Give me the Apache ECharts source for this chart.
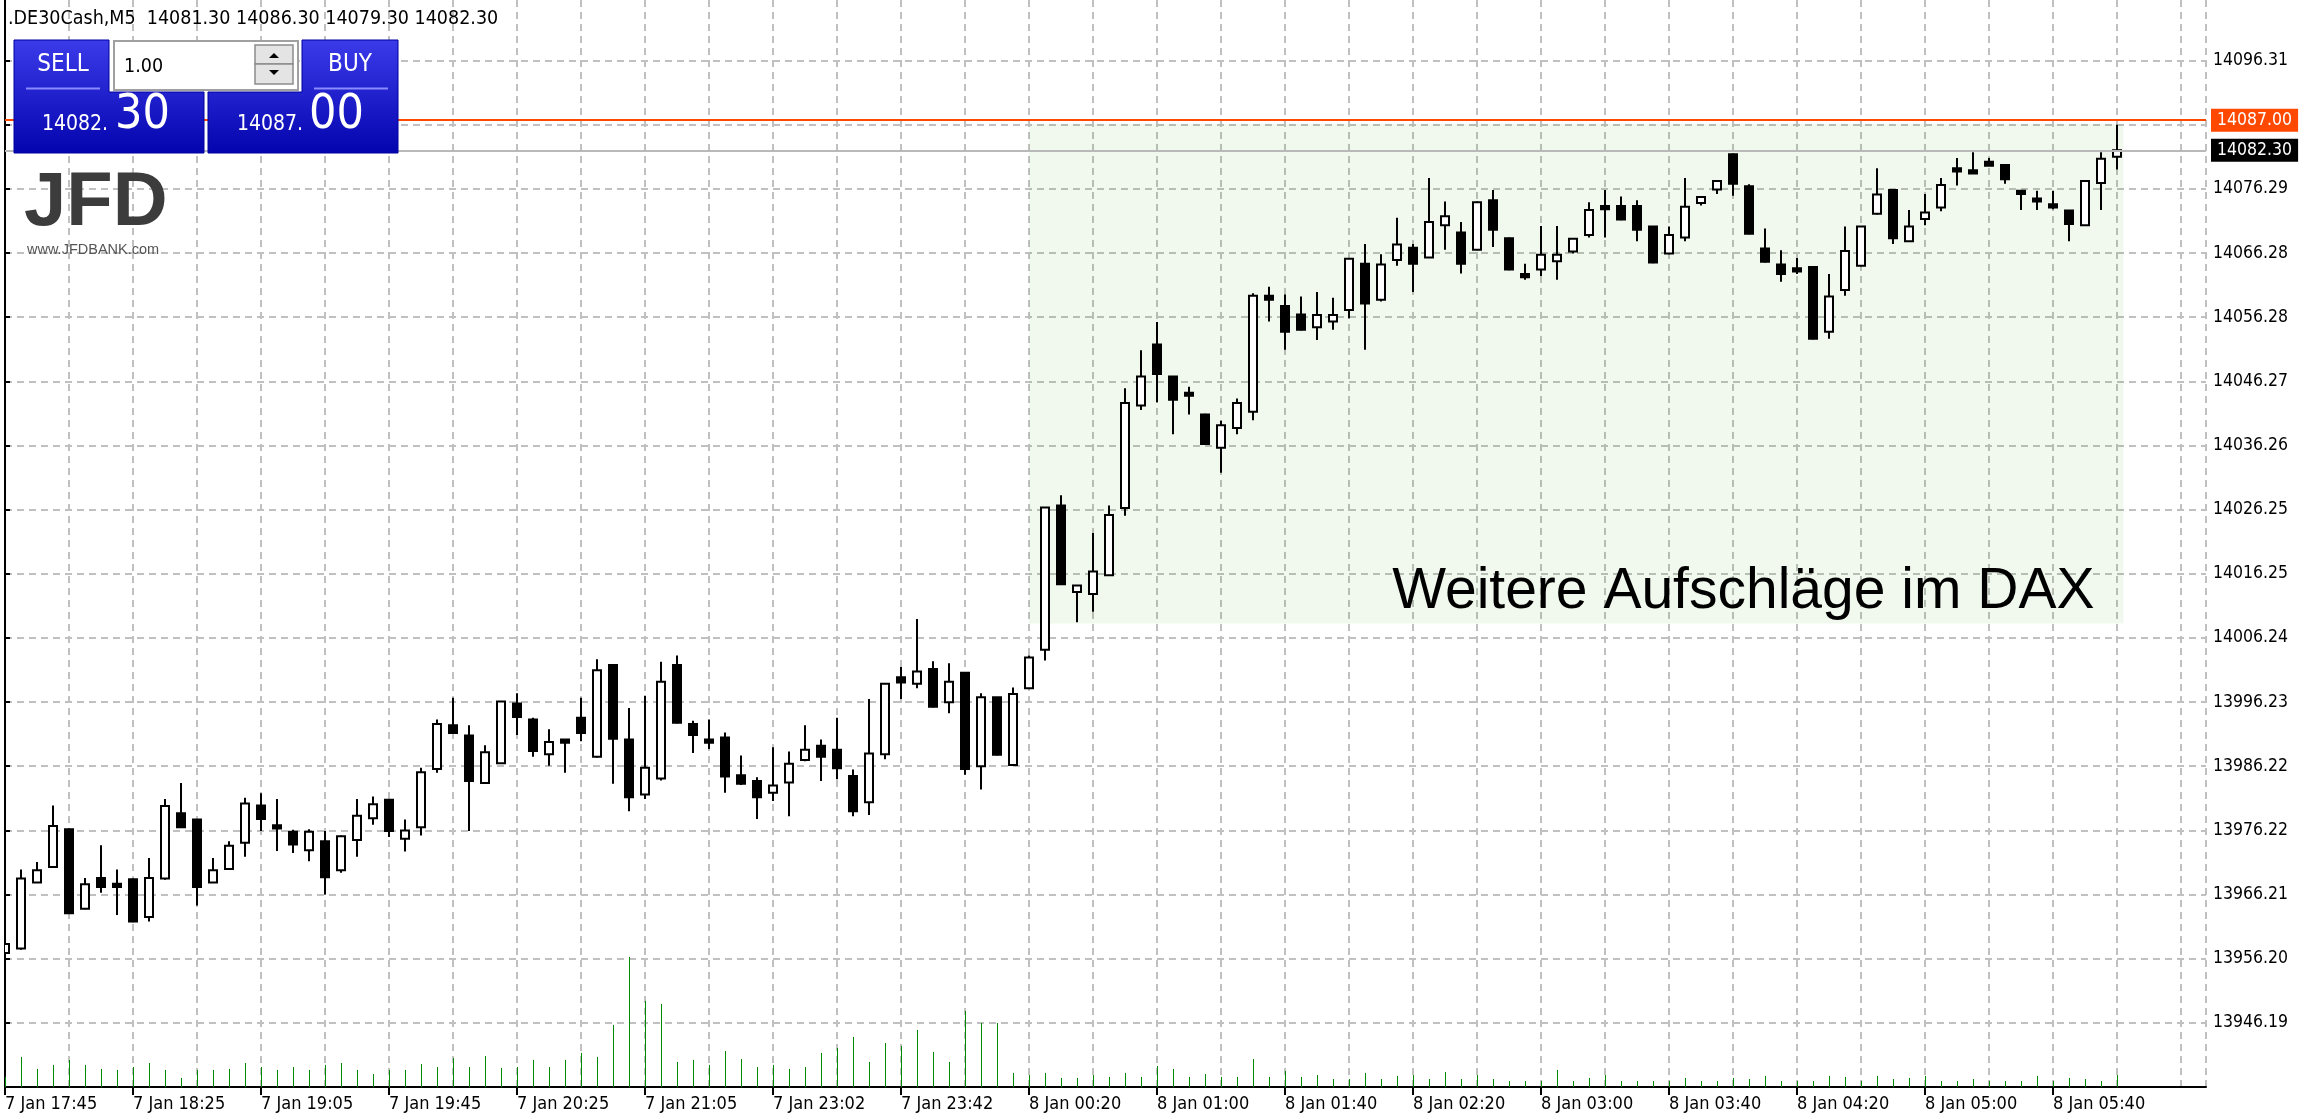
<!DOCTYPE html>
<html>
<head>
<meta charset="utf-8">
<script src="https://cdn.jsdelivr.net/npm/echarts@6/dist/echarts.min.js"></script>
<style>html,body{margin:0;padding:0;background:#fff;overflow:hidden}#c{width:2302px;height:1120px}</style>
</head>
<body>
<div id="c"></div>
<script>
// ---------- DATA ----------
const timeLabels = ['7 Jan 17:45','7 Jan 18:25','7 Jan 19:05','7 Jan 19:45','7 Jan 20:25','7 Jan 21:05','7 Jan 23:02','7 Jan 23:42','8 Jan 00:20','8 Jan 01:00','8 Jan 01:40','8 Jan 02:20','8 Jan 03:00','8 Jan 03:40','8 Jan 04:20','8 Jan 05:00','8 Jan 05:40'];

const opens = [13957.1,13957.8,13968.1,13970.5,13976.4,13964.0,13968.8,13967.9,13968.6,13962.7,
13968.7,13978.9,13977.9,13968.1,13970.2,13974.3,13980.1,13977.0,13976.0,13973.1,
13974.5,13970.0,13974.7,13978.1,13981.0,13974.9,13976.7,13985.8,13992.6,13991.0,
13983.6,13986.7,13996.0,13993.5,13988.1,13990.4,13993.8,13987.7,14002.0,13990.4,
13981.8,13984.3,14002.0,13992.8,13990.4,13990.7,13984.8,13983.9,13982.1,13983.7,
13987.2,13989.4,13988.8,13984.7,13980.6,13988.1,14000.1,13999.1,14001.4,13996.2,
14000.8,13986.2,13997.0,13986.4,13998.4,14004.4,14026.9,14013.4,14013.1,14016.0,
14026.5,14042.5,14052.0,14047.0,14044.5,14041.1,14035.9,14039.0,14041.5,14059.6,
14058.0,14056.7,14054.7,14055.6,14057.4,14064.6,14059.0,14065.2,14067.1,14065.6,
14070.6,14069.5,14066.8,14074.5,14068.6,14063.0,14063.7,14065.0,14066.5,14069.1,
14073.6,14073.6,14073.6,14070.4,14066.2,14068.7,14074.1,14076.2,14081.7,14076.7,
14067.0,14064.5,14063.9,14064.1,14054.0,14060.5,14064.3,14072.4,14076.1,14068.1,
14071.6,14073.4,14079.5,14079.2,14080.5,14080.0,14076.0,14074.8,14073.9,14072.9,
14070.6,14077.2,14081.3];

const highs = [13958.6,13970.1,13971.3,13980.1,13976.5,13968.8,13973.9,13970.1,13968.7,13971.9,
13981.1,13983.6,13978.0,13971.9,13974.5,13981.3,13982.0,13981.1,13976.3,13976.4,
13976.1,13975.4,13981.1,13981.5,13981.1,13977.9,13986.0,13993.5,13996.9,13992.6,
13989.5,13996.4,13997.6,13993.8,13992.0,13990.4,13996.9,14002.9,14002.0,13995.3,
13997.2,14002.5,14003.5,13993.3,13993.5,13991.5,13987.9,13984.5,13989.2,13988.5,
13992.6,13990.4,13993.8,13985.7,13996.7,13999.1,14001.7,14009.2,14002.6,14002.3,
14000.8,13997.6,13997.0,13998.5,14003.5,14026.6,14028.5,14014.5,14022.6,14026.9,
14045.2,14051.1,14055.5,14047.1,14045.4,14041.2,14040.1,14043.6,14060.0,14061.0,
14059.8,14059.5,14060.2,14059.3,14065.5,14067.7,14066.1,14071.8,14067.7,14078.0,
14074.3,14071.1,14074.3,14076.1,14068.7,14064.6,14070.5,14070.5,14068.6,14074.2,
14076.1,14075.1,14074.5,14070.5,14070.4,14078.0,14075.1,14077.6,14081.8,14077.0,
14070.1,14066.7,14065.5,14064.2,14063.0,14070.4,14070.5,14079.5,14076.2,14073.0,
14075.5,14078.0,14081.1,14082.0,14081.1,14080.1,14076.1,14076.0,14076.0,14073.0,
14077.6,14082.0,14086.3];

const lows = [13957.0,13957.6,13968.0,13970.4,13963.2,13963.9,13966.5,13963.0,13961.9,13962.0,
13968.5,13976.6,13964.5,13968.0,13970.1,13972.1,13976.1,13973.0,13972.7,13971.4,
13966.2,13969.6,13972.1,13977.1,13975.2,13972.9,13975.4,13985.2,13991.3,13976.1,
13983.5,13986.6,13991.1,13987.7,13986.3,13985.2,13990.1,13987.6,13983.5,13979.2,
13981.1,13984.0,13992.9,13988.3,13988.9,13982.1,13983.3,13978.0,13980.8,13978.4,
13987.0,13983.9,13984.2,13978.4,13978.6,13987.3,13996.7,13998.4,13995.4,13994.5,
13984.9,13982.6,13987.9,13986.3,13998.3,14002.7,14014.5,14008.7,14010.3,14015.9,
14025.3,14041.8,14043.0,14038.0,14041.1,14036.4,14032.0,14038.0,14040.2,14055.6,
14051.2,14054.2,14052.7,14054.3,14056.1,14051.2,14058.7,14064.3,14060.2,14065.5,
14066.8,14063.1,14066.7,14067.2,14063.6,14062.1,14062.7,14062.1,14066.2,14068.7,
14068.7,14071.4,14068.1,14064.7,14066.1,14068.1,14073.7,14075.5,14075.2,14069.2,
14064.8,14061.8,14063.0,14052.8,14052.9,14059.6,14064.2,14072.3,14067.7,14068.0,
14070.6,14072.8,14076.8,14078.6,14079.9,14077.1,14073.0,14073.0,14073.1,14068.1,
14070.5,14073.0,14079.3];

const closes = [13958.5,13968.7,13970.0,13976.9,13963.3,13967.8,13967.4,13967.4,13962.0,13968.8,
13980.0,13976.7,13967.4,13970.0,13973.8,13980.4,13978.0,13976.5,13974.0,13976.0,
13968.9,13975.3,13978.5,13980.3,13976.1,13976.2,13985.3,13992.8,13991.4,13983.9,
13988.4,13996.3,13993.9,13988.6,13990.0,13989.9,13991.4,14001.2,13990.5,13981.4,
13986.0,13999.4,13993.0,13991.1,13989.9,13984.6,13983.5,13981.4,13983.2,13986.6,
13988.8,13987.7,13985.9,13979.2,13988.2,13999.1,13999.3,14001.0,13995.5,13999.4,
13985.8,13997.0,13988.0,13997.5,14003.2,14026.6,14014.6,14014.4,14016.6,14025.4,
14042.9,14047.0,14047.4,14043.4,14044.0,14036.5,14039.4,14042.9,14059.6,14059.0,
14054.0,14054.3,14056.6,14056.6,14065.4,14058.4,14064.5,14067.6,14064.6,14071.1,
14072.0,14064.6,14074.2,14069.9,14063.7,14062.5,14066.0,14066.0,14068.5,14073.0,
14073.1,14071.5,14069.9,14064.8,14069.1,14073.5,14075.0,14077.5,14077.1,14069.3,
14064.9,14063.0,14063.4,14052.9,14059.5,14066.6,14070.4,14075.4,14068.6,14070.4,
14072.6,14076.9,14079.0,14078.7,14079.9,14077.8,14075.5,14074.3,14073.4,14070.8,
14077.5,14081.0,14082.3];

const volumes = [100,300,180,220,270,220,180,170,200,240,
170,90,170,170,180,240,200,170,200,170,
220,240,170,130,170,170,230,200,290,200,
310,190,200,270,200,270,340,300,620,1300,
860,830,250,270,220,360,280,200,220,180,
200,340,390,500,250,440,410,570,350,250,
760,640,640,140,120,140,90,90,120,100,
140,100,210,180,100,130,100,100,280,100,
160,100,120,80,80,140,80,110,120,80,
150,80,120,80,60,60,60,170,60,90,
120,60,60,60,60,90,60,60,90,80,
110,60,60,60,110,100,60,110,80,90,
110,60,60,80,60,60,60,110,60,90,
80,60,120];

const yTickLabels = ['13946.19','13956.20','13966.21','13976.22','13986.22','13996.23','14006.24','14016.25','14026.25','14036.26','14046.27','14056.28','14066.28','14076.29','14096.31'];

const bidPrice = 14082.30;
const askPrice = 14087.00;
const headerText = '.DE30Cash,M5  14081.30 14086.30 14079.30 14082.30';
const boxFromIndex = 64, boxToIndex = 132.4, boxLow = 14008.5, boxHigh = 14086.4;
const noteText = 'Weitere Aufschläge im DAX';
const noteIndex = 86.7, notePrice = 14013.4;

// ---------- derived ----------
function shiftTime(label, minutes) {
  const m = label.match(/^(\d+) (\w+) (\d+):(\d+)$/);
  let d = +m[1], t = (+m[3]) * 60 + (+m[4]) + minutes;
  if (t >= 1440) { t -= 1440; d += 1; }
  return d + ' ' + m[2] + ' ' + String(Math.floor(t / 60)).padStart(2, '0') + ':' + String(t % 60).padStart(2, '0');
}
const candleTimes = opens.map((_, i) => shiftTime(timeLabels[Math.floor(i / 8)], (i % 8) * 5));
const labelIndexes = timeLabels.map((_, k) => k * 8);

const Y_STEP = 10.008;
const Y_MIN = 13946.19 - Y_STEP;
const Y_MAX = 14105.75;
const X_MAX = 137.5625;
const VOL_MAX = 10870;
const FONT = "'DejaVu Sans Condensed','DejaVu Sans',sans-serif";

const candleData = opens.map((o, i) => [i, o, closes[i], lows[i], highs[i]]);
const volData = volumes.map((v, i) => [i, v]);

const chart = echarts.init(document.getElementById('c'), null, { renderer: 'canvas' });

const blueGrad = () => new echarts.graphic.LinearGradient(0, 0, 0, 1, [
  { offset: 0, color: '#3b3bea' }, { offset: 1, color: '#0404ae' }]);

const option = {
  animation: false,
  backgroundColor: '#ffffff',
  grid: { left: 5, right: 96, top: 0, bottom: 33, containLabel: false },
  xAxis: [
    { type: 'value', min: 0, max: X_MAX, interval: 8, position: 'bottom',
      axisLine: { show: true, onZero: false, lineStyle: { color: '#000', width: 2 } },
      axisTick: { show: true, length: 8, customValues: labelIndexes, lineStyle: { color: '#000', width: 2 } },
      axisLabel: { show: true, align: 'left', margin: 8, color: '#000', fontFamily: FONT, fontSize: 18,
        customValues: labelIndexes,
        formatter: v => (Number.isInteger(v) && v % 8 === 0 && v < candleTimes.length) ? candleTimes[v] : '' },
      splitLine: { show: false } },
    { type: 'value', min: 0, max: X_MAX, interval: 4, position: 'bottom',
      axisLine: { show: false }, axisTick: { show: false }, axisLabel: { show: false },
      splitLine: { show: true, lineStyle: { color: '#c0c0c0', width: 2, type: [7, 5] } } }
  ],
  yAxis: [
    { type: 'value', position: 'right', min: Y_MIN, max: Y_MAX, interval: Y_STEP,
      axisLine: { show: true, lineStyle: { color: '#000', width: 2 } },
      axisTick: { show: true, length: 5, lineStyle: { color: '#000', width: 2 } },
      axisLabel: { show: true, margin: 7, color: '#000', fontFamily: FONT, fontSize: 17.5,
        showMinLabel: false, showMaxLabel: false,
        formatter: v => { for (const s of yTickLabels) { if (Math.abs(parseFloat(s) - v) < 0.3) return s; } return ''; } },
      splitLine: { show: true, showMaxLine: false, lineStyle: { color: '#c0c0c0', width: 2, type: [7, 5] } } },
    { type: 'value', position: 'left', min: 0, max: VOL_MAX,
      axisLine: { show: true, lineStyle: { color: '#000', width: 2 } },
      axisTick: { show: false }, axisLabel: { show: false }, splitLine: { show: false } }
  ],
  series: [
    { type: 'line', data: [], xAxisIndex: 0, yAxisIndex: 0, z: 2, silent: true,
      markLine: { symbol: 'none', silent: true, animation: false,
        label: { show: true, position: 'end', distance: 5, color: '#fff', fontFamily: FONT, fontSize: 17.5, padding: [3, 6, 2, 6] },
        data: [
          { yAxis: askPrice, lineStyle: { color: '#ff4800', width: 2, type: 'solid' },
            label: { formatter: askPrice.toFixed(2), backgroundColor: '#ff4800' } },
          { yAxis: bidPrice, lineStyle: { color: '#b9b9b9', width: 2, type: 'solid' },
            label: { formatter: bidPrice.toFixed(2), backgroundColor: '#000' } }
        ] } },
    { type: 'custom', name: 'volume', xAxisIndex: 0, yAxisIndex: 1, z: 3, data: volData,
      encode: { x: 0, y: 1 }, clip: true,
      renderItem: (params, api) => {
        const p0 = api.coord([api.value(0), 0]);
        const p1 = api.coord([api.value(0), api.value(1)]);
        const x = Math.round(p0[0]) + 0.5;
        return { type: 'line', shape: { x1: x, y1: p0[1], x2: x, y2: p1[1] }, style: { stroke: '#008c00', lineWidth: 1 } };
      } },
    { type: 'custom', name: 'candles', xAxisIndex: 0, yAxisIndex: 0, z: 4, data: candleData,
      encode: { x: 0, y: [1, 2, 3, 4] }, clip: true,
      renderItem: (params, api) => {
        const i = api.value(0), o = api.value(1), c = api.value(2), l = api.value(3), h = api.value(4);
        const pO = api.coord([i, o]), pC = api.coord([i, c]), pL = api.coord([i, l]), pH = api.coord([i, h]);
        const x = Math.round(pO[0]);
        const top = Math.min(pO[1], pC[1]), bot = Math.max(pO[1], pC[1]);
        const bull = c > o;
        return { type: 'group', children: [
          { type: 'line', shape: { x1: x, y1: pH[1], x2: x, y2: top }, style: { stroke: '#000', lineWidth: 2 } },
          { type: 'line', shape: { x1: x, y1: bot, x2: x, y2: pL[1] }, style: { stroke: '#000', lineWidth: 2 } },
          { type: 'rect', shape: { x: x - 4, y: top, width: 8, height: Math.max(bot - top, 1) },
            style: { fill: bull ? '#fff' : '#000', stroke: '#000', lineWidth: 2 } }
        ] };
      } },
    { type: 'line', data: [], xAxisIndex: 0, yAxisIndex: 0, z: 6, silent: true,
      markArea: { silent: true, itemStyle: { color: 'rgba(55,169,12,0.07)' },
        data: [[{ coord: [boxFromIndex, boxLow] }, { coord: [boxToIndex, boxHigh] }]] },
      markPoint: { silent: true, symbol: 'circle', symbolSize: 0,
        label: { show: true, position: 'right', distance: 0, color: '#000', fontFamily: "'Liberation Sans',Arial,sans-serif", fontSize: 57 },
        data: [{ coord: [noteIndex, notePrice], value: noteText, label: { formatter: noteText } }] } }
  ],
  graphic: [
    { type: 'text', x: 8, y: 19, z: 100, style: { text: headerText, fill: '#000', fontFamily: FONT, fontSize: 19.5, verticalAlign: 'middle' } },
    // trade panel
    { type: 'polygon', z: 100, shape: { points: [[14, 40], [109, 40], [109, 92], [204, 92], [204, 153], [14, 153]] },
      style: { fill: blueGrad(), stroke: '#0000a0', lineWidth: 1 } },
    { type: 'polygon', z: 100, shape: { points: [[302, 40], [398, 40], [398, 153], [208, 153], [208, 92], [302, 92]] },
      style: { fill: blueGrad(), stroke: '#0000a0', lineWidth: 1 } },
    { type: 'rect', z: 100, shape: { x: 114, y: 41, width: 184, height: 49 }, style: { fill: '#fff', stroke: '#a0a0a0', lineWidth: 2 } },
    { type: 'rect', z: 101, shape: { x: 255, y: 45, width: 38, height: 19 }, style: { fill: '#e4e4e4', stroke: '#8c8c8c', lineWidth: 1.5 } },
    { type: 'rect', z: 101, shape: { x: 255, y: 64, width: 38, height: 20 }, style: { fill: '#e4e4e4', stroke: '#8c8c8c', lineWidth: 1.5 } },
    { type: 'polygon', z: 102, shape: { points: [[269, 58], [279, 58], [274, 53]] }, style: { fill: '#000' } },
    { type: 'polygon', z: 102, shape: { points: [[269, 70], [279, 70], [274, 75]] }, style: { fill: '#000' } },
    { type: 'text', z: 102, x: 124, y: 67, style: { text: '1.00', fill: '#000', fontFamily: FONT, fontSize: 19.5, verticalAlign: 'middle' } },
    { type: 'text', z: 102, x: 63, y: 65, style: { text: 'SELL', fill: '#fff', fontFamily: FONT, fontSize: 24, align: 'center', verticalAlign: 'middle' } },
    { type: 'text', z: 102, x: 350, y: 65, style: { text: 'BUY', fill: '#fff', fontFamily: FONT, fontSize: 24, align: 'center', verticalAlign: 'middle' } },
    { type: 'line', z: 102, shape: { x1: 26, y1: 88.5, x2: 100, y2: 88.5 }, style: { stroke: '#8c8cff', lineWidth: 2 } },
    { type: 'line', z: 102, shape: { x1: 314, y1: 88.5, x2: 388, y2: 88.5 }, style: { stroke: '#8c8cff', lineWidth: 2 } },
    { type: 'text', z: 102, x: 42, y: 125, style: { text: '14082.', fill: '#fff', fontFamily: FONT, fontSize: 21, verticalAlign: 'middle' } },
    { type: 'text', z: 102, x: 115, y: 116, style: { text: '30', fill: '#fff', fontFamily: FONT, fontSize: 48, verticalAlign: 'middle' } },
    { type: 'text', z: 102, x: 237, y: 125, style: { text: '14087.', fill: '#fff', fontFamily: FONT, fontSize: 21, verticalAlign: 'middle' } },
    { type: 'text', z: 102, x: 309, y: 116, style: { text: '00', fill: '#fff', fontFamily: FONT, fontSize: 48, verticalAlign: 'middle' } },
    // logo
    { type: 'text', z: 100, x: 24, y: 204, style: { text: 'JFD', fill: '#3c3c3c', fontFamily: "'Liberation Sans',Arial,sans-serif", fontWeight: 'bold', fontSize: 76, verticalAlign: 'middle' } },
    { type: 'text', z: 100, x: 27, y: 250, style: { text: 'www.JFDBANK.com', fill: '#555', fontFamily: "'Liberation Sans',Arial,sans-serif", fontSize: 14.5, verticalAlign: 'middle' } }
  ]
};
chart.setOption(option);
</script>
</body>
</html>
